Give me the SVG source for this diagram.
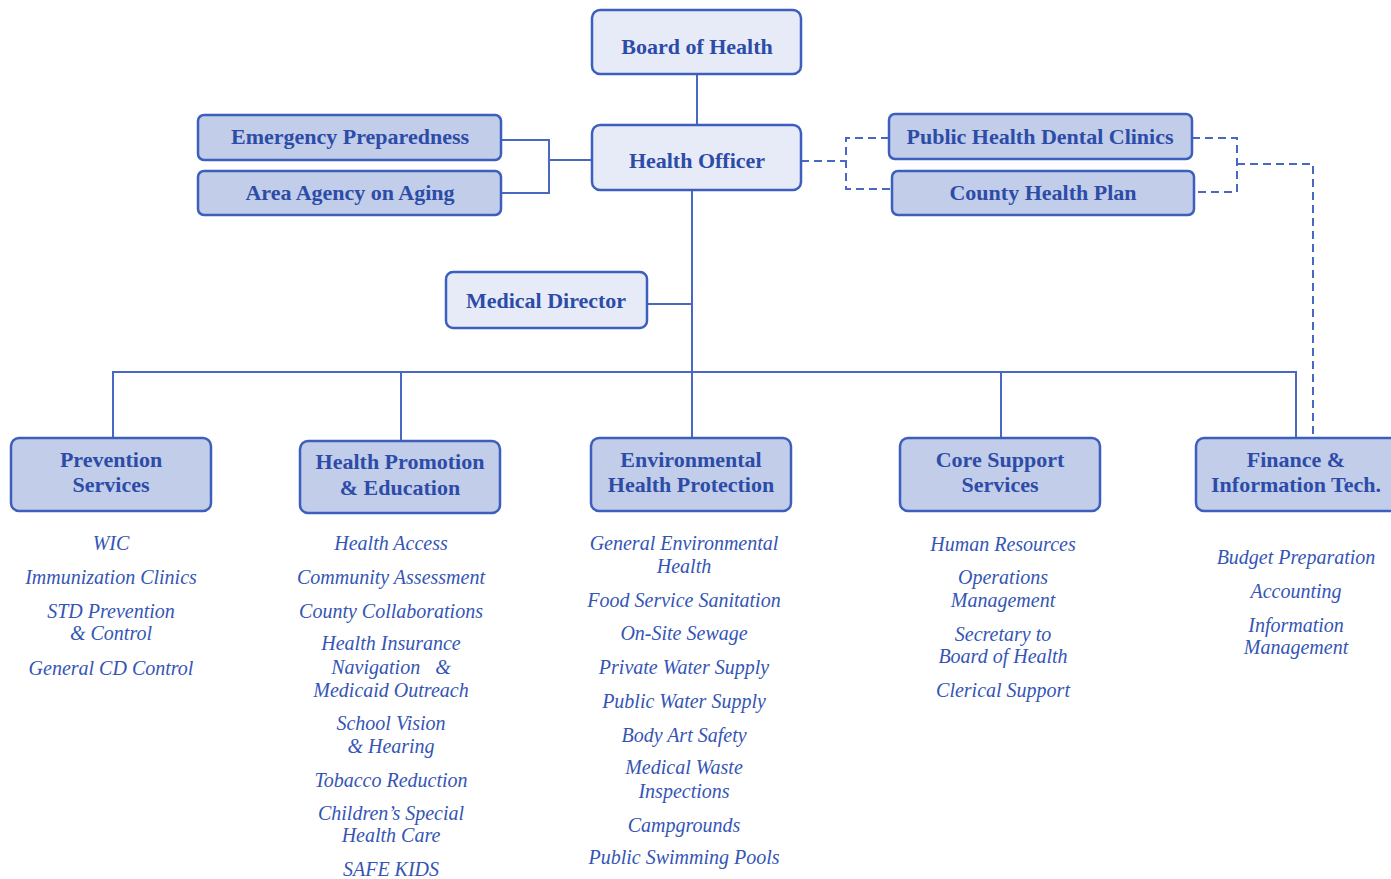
<svg xmlns="http://www.w3.org/2000/svg" width="1391" height="879" viewBox="0 0 1391 879">
<style>
.box rect{stroke:#3C5FBE;stroke-width:2.5}
.light rect{fill:#E7EBF7}
.dark rect{fill:#C2CDE9}
.box text{font-family:'Liberation Serif','Times New Roman','DejaVu Serif',serif;font-weight:700;font-size:22px;fill:#2C4CA8;text-anchor:middle}
.items text{font-family:'Liberation Serif','Times New Roman','DejaVu Serif',serif;font-style:italic;font-size:20px;fill:#3555B5;text-anchor:middle}
.solid{fill:none;stroke:#4868C4;stroke-width:2}
.dash{fill:none;stroke:#4868C4;stroke-width:2;stroke-dasharray:8 5}
</style>
<rect width="1391" height="879" fill="#FFFFFF"/>
<g id="connectors">
<path class="solid" d="M697 74V125"/>
<path class="solid" d="M501 140H549V193H501M549 160H592"/>
<path class="solid" d="M692 190V438"/>
<path class="solid" d="M647 304H692"/>
<path class="solid" d="M113 438V372H1296V438"/>
<path class="solid" d="M401 372V441M1001 372V438"/>
<path class="dash" d="M801 161H846M889 138H846V189H892"/>
<path class="dash" d="M1192 138H1237V192H1194M1237 164H1313V438"/>
</g>
<g id="board" class="box light"><rect x="592" y="10" width="209" height="64" rx="8"/><text x="697" y="54">Board of Health</text></g>
<g id="officer" class="box light"><rect x="592" y="125" width="209" height="65" rx="8"/><text x="697" y="168">Health Officer</text></g>
<g id="emergency" class="box dark"><rect x="198" y="115" width="303" height="45" rx="6"/><text x="350" y="144">Emergency Preparedness</text></g>
<g id="aging" class="box dark"><rect x="198" y="171" width="303" height="44" rx="6"/><text x="350" y="200">Area Agency on Aging</text></g>
<g id="dental" class="box dark"><rect x="889" y="114" width="303" height="45" rx="6"/><text x="1040" y="144">Public Health Dental Clinics</text></g>
<g id="plan" class="box dark"><rect x="892" y="171" width="302" height="44" rx="6"/><text x="1043" y="200">County Health Plan</text></g>
<g id="medical" class="box light"><rect x="446" y="272" width="201" height="56" rx="7"/><text x="546" y="308">Medical Director</text></g>
<g id="prevention" class="box dark"><rect x="11" y="438" width="200" height="73" rx="8"/><text x="111" y="467">Prevention</text><text x="111" y="492">Services</text></g>
<g id="promotion" class="box dark"><rect x="300" y="441" width="200" height="72" rx="8"/><text x="400" y="469">Health Promotion</text><text x="400" y="495">&amp; Education</text></g>
<g id="environmental" class="box dark"><rect x="591" y="438" width="200" height="73" rx="8"/><text x="691" y="467">Environmental</text><text x="691" y="492">Health Protection</text></g>
<g id="core" class="box dark"><rect x="900" y="438" width="200" height="73" rx="8"/><text x="1000" y="467">Core Support</text><text x="1000" y="492">Services</text></g>
<g id="finance" class="box dark"><rect x="1196" y="438" width="205" height="73" rx="8"/><text x="1296" y="467">Finance &amp;</text><text x="1296" y="492">Information Tech.</text></g>
<g id="prevention-items" class="items">
<text x="111" y="550">WIC</text>
<text x="111" y="584">Immunization Clinics</text>
<text x="111" y="618">STD Prevention</text>
<text x="111" y="640">&amp; Control</text>
<text x="111" y="675">General CD Control</text>
</g>
<g id="promotion-items" class="items">
<text x="391" y="550">Health Access</text>
<text x="391" y="584">Community Assessment</text>
<text x="391" y="618">County Collaborations</text>
<text x="391" y="650">Health Insurance</text>
<text x="391" y="674" xml:space="preserve">Navigation   &amp;</text>
<text x="391" y="697">Medicaid Outreach</text>
<text x="391" y="730">School Vision</text>
<text x="391" y="753">&amp; Hearing</text>
<text x="391" y="787">Tobacco Reduction</text>
<text x="391" y="820">Children’s Special</text>
<text x="391" y="842">Health Care</text>
<text x="391" y="876">SAFE KIDS</text>
</g>
<g id="environmental-items" class="items">
<text x="684" y="550">General Environmental</text>
<text x="684" y="573">Health</text>
<text x="684" y="607">Food Service Sanitation</text>
<text x="684" y="640">On-Site Sewage</text>
<text x="684" y="674">Private Water Supply</text>
<text x="684" y="708">Public Water Supply</text>
<text x="684" y="742">Body Art Safety</text>
<text x="684" y="774">Medical Waste</text>
<text x="684" y="798">Inspections</text>
<text x="684" y="832">Campgrounds</text>
<text x="684" y="864">Public Swimming Pools</text>
</g>
<g id="core-items" class="items">
<text x="1003" y="551">Human Resources</text>
<text x="1003" y="584">Operations</text>
<text x="1003" y="607">Management</text>
<text x="1003" y="641">Secretary to</text>
<text x="1003" y="663">Board of Health</text>
<text x="1003" y="697">Clerical Support</text>
</g>
<g id="finance-items" class="items">
<text x="1296" y="564">Budget Preparation</text>
<text x="1296" y="598">Accounting</text>
<text x="1296" y="632">Information</text>
<text x="1296" y="654">Management</text>
</g>
</svg>
